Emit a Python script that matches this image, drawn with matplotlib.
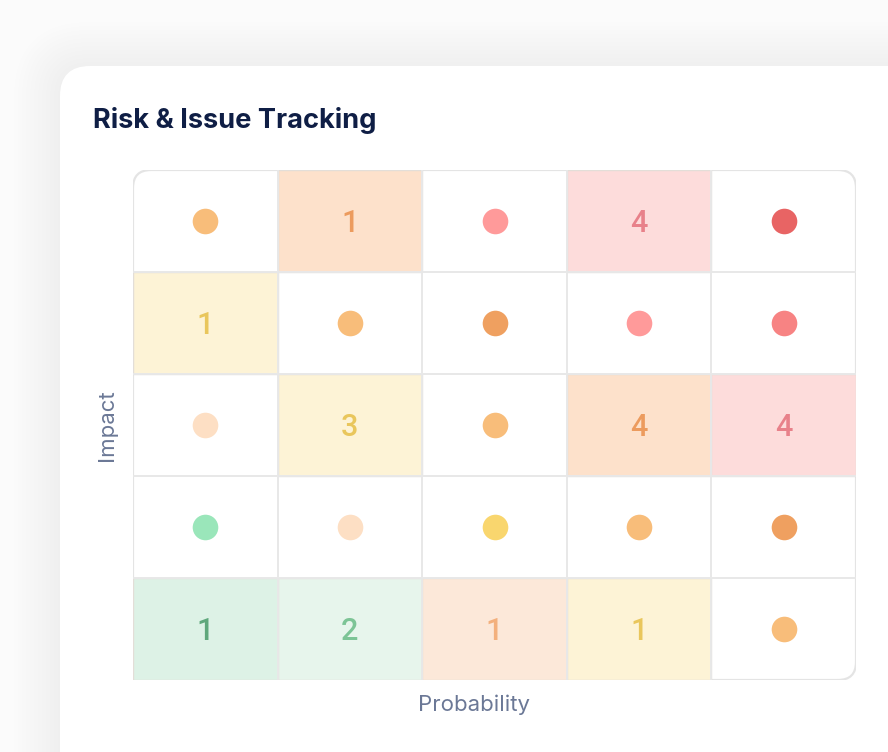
import matplotlib
matplotlib.use("Agg")
import matplotlib.pyplot as plt
from matplotlib.patches import FancyBboxPatch, Rectangle

# risk matrix, rows from top (highest impact) to bottom; 0 = no issues (dot)
counts = [
    [0, 1, 0, 4, 0],
    [1, 0, 0, 0, 0],
    [0, 3, 0, 4, 4],
    [0, 0, 0, 0, 0],
    [1, 2, 1, 1, 0],
]
fill_colors = [
    ["#FFFFFF", "#FDE1CB", "#FFFFFF", "#FDDCDB", "#FFFFFF"],
    ["#FDF3D6", "#FFFFFF", "#FFFFFF", "#FFFFFF", "#FFFFFF"],
    ["#FFFFFF", "#FDF3D6", "#FFFFFF", "#FDE1CB", "#FDDCDB"],
    ["#FFFFFF", "#FFFFFF", "#FFFFFF", "#FFFFFF", "#FFFFFF"],
    ["#DDF2E6", "#E7F5EC", "#FCE8D9", "#FDF3D6", "#FFFFFF"],
]
mark_colors = [
    ["#F8BD7A", "#EC9B5E", "#FF9A9A", "#E8818A", "#E86464"],
    ["#E9C65C", "#F8BD7A", "#EFA060", "#FF9A9A", "#F78383"],
    ["#FDDFC4", "#E9C65C", "#F8BD7A", "#EC9B5E", "#E8818A"],
    ["#9AE6BA", "#FDDFC4", "#F9D66E", "#F8BD7A", "#EFA060"],
    ["#5FA87C", "#7DC496", "#F3B07D", "#E9C65C", "#F8BD7A"],
]
x_label = "Probability"
y_label = "Impact"
title = "Risk & Issue Tracking"

W, H = 888, 752
fig = plt.figure(figsize=(W / 100, H / 100), dpi=100, facecolor="#FBFBFB")

# background card with soft shadow (pixel coordinates)
bg = fig.add_axes([0, 0, 1, 1])
bg.set_xlim(0, W)
bg.set_ylim(H, 0)
bg.axis("off")
for i in range(12):
    g = 2 + i * 4
    bg.add_patch(FancyBboxPatch((60 - g, 66 - g + 2), 900 + 2 * g, 800 + 2 * g,
                                boxstyle="round,pad=0,rounding_size=%d" % (30 + g),
                                fc="black", ec="none", alpha=0.004))
bg.add_patch(FancyBboxPatch((60, 66), 900, 800, boxstyle="round,pad=0,rounding_size=30",
                            fc="white", ec="none"))

fig.text(93 / W, 1 - 120 / H, title, fontsize=19.6, fontweight="bold", family="Inter",
         color="#0F1E45", va="center", ha="left")

# matrix axes
left, right, top, bottom = 133, 856, 170, 680
ax = fig.add_axes([left / W, 1 - bottom / H, (right - left) / W, (bottom - top) / H])
n = len(counts)
ax.set_xlim(0, n)
ax.set_ylim(n, 0)
ax.axis("off")

cw = (right - left) / n
ch = (bottom - top) / n
r = 18 / cw
ax.add_patch(FancyBboxPatch((0, 0), n, n, boxstyle="round,pad=0,rounding_size=%f" % r,
                            mutation_aspect=cw / ch, fc="white", ec="#E4E4E4",
                            lw=1.6, zorder=1))

for i in range(n):
    for j in range(n):
        fc = fill_colors[i][j]
        if fc != "#FFFFFF":
            ax.add_patch(Rectangle((j, i), 1, 1, fc=fc, ec="#E3DED8", lw=1.0, zorder=2))
        if counts[i][j]:
            ax.text(j + 0.5, i + 0.52, str(counts[i][j]), ha="center", va="center",
                    fontsize=22, family="Roboto", fontweight=500,
                    color=mark_colors[i][j], zorder=4)
        else:
            ax.scatter(j + 0.5, i + 0.5, s=340, color=mark_colors[i][j], lw=0, zorder=4)

# inner grid lines
for k in range(1, n):
    ax.plot([k, k], [0, n], color="#E8E8E8", lw=1.4, zorder=3)
    ax.plot([0, n], [k, k], color="#E8E8E8", lw=1.4, zorder=3)

fig.text(474 / W, 1 - 705 / H, x_label, fontsize=16, family="Inter", color="#6B7896",
         ha="center", va="center")
fig.text(107 / W, 1 - 425 / H, y_label, fontsize=16, family="Inter", color="#6B7896",
         ha="center", va="center", rotation=90)

fig.savefig("out.png", dpi=100, facecolor=fig.get_facecolor())
